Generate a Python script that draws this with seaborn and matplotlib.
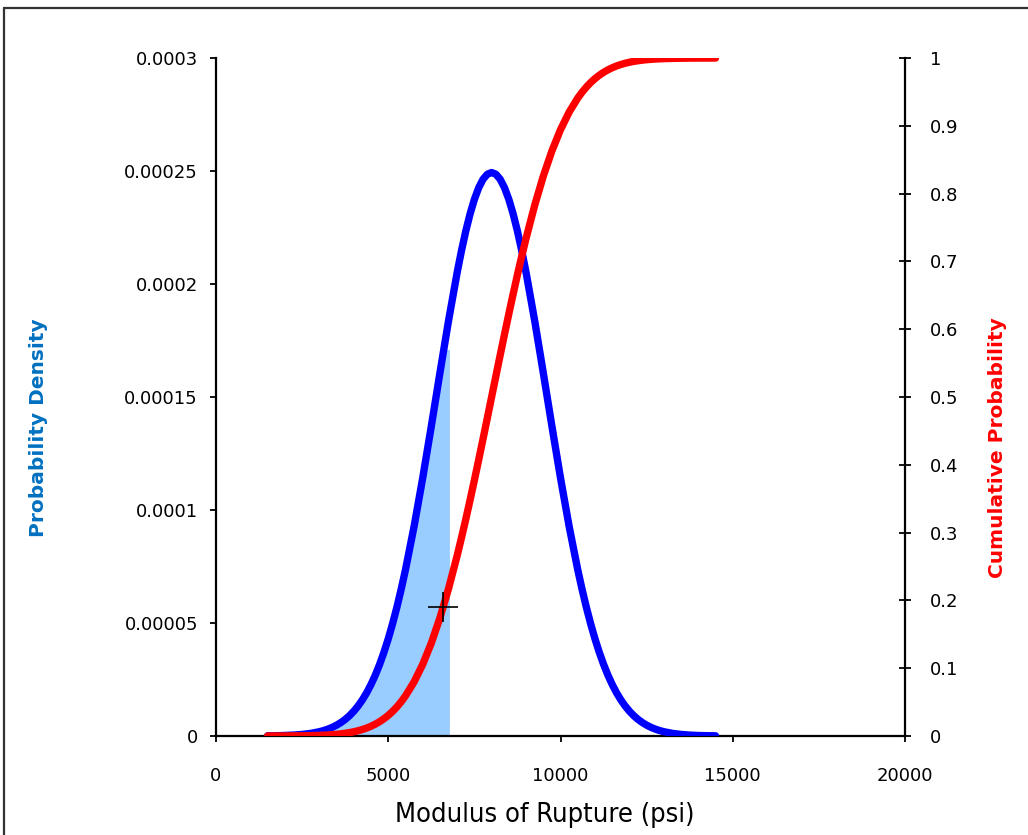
import numpy as np
import pandas as pd
import matplotlib
matplotlib.use('Agg')
import matplotlib.pyplot as plt
from matplotlib.lines import Line2D
import seaborn as sns

mor_psi = list(range(1500, 14501, 250))

# Probability density (blue curve)
pdf_vals = [
    0.0007e-4, 0.0012e-4, 0.0022e-4, 0.0039e-4, 0.0068e-4, 0.0114e-4, 0.0189e-4,
    0.0304e-4, 0.0478e-4, 0.0732e-4, 0.1096e-4, 0.1600e-4, 0.2279e-4, 0.3168e-4,
    0.4299e-4, 0.5693e-4, 0.7356e-4, 0.9276e-4, 1.1416e-4, 1.3709e-4, 1.6067e-4,
    1.8376e-4, 2.0510e-4, 2.2340e-4, 2.3746e-4, 2.4632e-4, 2.4934e-4,
    2.4632e-4, 2.3746e-4, 2.2340e-4, 2.0510e-4, 1.8376e-4, 1.6067e-4, 1.3709e-4,
    1.1416e-4, 0.9276e-4, 0.7356e-4, 0.5693e-4, 0.4299e-4, 0.3168e-4, 0.2279e-4,
    0.1600e-4, 0.1096e-4, 0.0732e-4, 0.0478e-4, 0.0304e-4, 0.0189e-4, 0.0114e-4,
    0.0068e-4, 0.0039e-4, 0.0022e-4, 0.0012e-4, 0.0007e-4,
]

# Cumulative probability (red curve)
cdf_vals = [
    0.00002, 0.00005, 0.00009, 0.00016, 0.00029, 0.00052, 0.00089, 0.00150,
    0.00246, 0.00395, 0.00621, 0.00955, 0.01435, 0.02111, 0.03040, 0.04283,
    0.05908, 0.07982, 0.10565, 0.13703, 0.17425, 0.21733, 0.26599, 0.31963,
    0.37733, 0.43792, 0.50000, 0.56208, 0.62267, 0.68037, 0.73401, 0.78267,
    0.82575, 0.86297, 0.89435, 0.92018, 0.94092, 0.95717, 0.96960, 0.97889,
    0.98565, 0.99045, 0.99379, 0.99605, 0.99754, 0.99851, 0.99911, 0.99948,
    0.99971, 0.99984, 0.99991, 0.99995, 0.99998,
]

# Extra readings where the curves bend most (between the 250 psi samples)
mor_fine = [3125, 3375, 3625, 3875, 4125, 4375, 4625, 4875, 5125, 5375,
            7125, 7375, 7625, 7875, 8125, 8375, 8625, 8875,
            10625, 10875, 11125, 11375, 11625, 11875, 12125, 12375, 12625, 12875]
pdf_fine = [0.0240e-4, 0.0382e-4, 0.0593e-4, 0.0898e-4, 0.1328e-4, 0.1915e-4,
            0.2695e-4, 0.3702e-4, 0.4963e-4, 0.6491e-4,
            2.1471e-4, 2.3102e-4, 2.4259e-4, 2.4858e-4, 2.4858e-4, 2.4259e-4,
            2.3102e-4, 2.1471e-4,
            0.6491e-4, 0.4963e-4, 0.3702e-4, 0.2695e-4, 0.1915e-4, 0.1328e-4,
            0.0898e-4, 0.0593e-4, 0.0382e-4, 0.0240e-4]
cdf_fine = [0.00116, 0.00192, 0.00313, 0.00497, 0.00772, 0.01174, 0.01746,
            0.02540, 0.03618, 0.05044,
            0.29223, 0.34804, 0.40735, 0.46887, 0.53113, 0.59265, 0.65196, 0.70777,
            0.94956, 0.96382, 0.97460, 0.98254, 0.98826, 0.99228, 0.99503,
            0.99687, 0.99808, 0.99884]

# Shaded region: under the density curve up to ~6500 psi, then a flat top to the edge
shade_extra_x = [6600, 6775]
shade_extra_y = [1.71e-4, 1.71e-4]

# Marked point on the cumulative curve
mark_x = [6600]
mark_cdf = [0.19]

x_ticks = [0, 5000, 10000, 15000, 20000]
pdf_ticks = [0, 0.00005, 0.0001, 0.00015, 0.0002, 0.00025, 0.0003]
pdf_tick_labels = ['0', '0.00005', '0.0001', '0.00015', '0.0002', '0.00025', '0.0003']
cdf_ticks = [0, 0.1, 0.2, 0.3, 0.4, 0.5, 0.6, 0.7, 0.8, 0.9, 1.0]
cdf_tick_labels = ['0', '0.1', '0.2', '0.3', '0.4', '0.5', '0.6', '0.7', '0.8', '0.9', '1']

df = pd.concat([
    pd.DataFrame({'mor': mor_psi, 'pdf': pdf_vals, 'cdf': cdf_vals}),
    pd.DataFrame({'mor': mor_fine, 'pdf': pdf_fine, 'cdf': cdf_fine}),
]).sort_values('mor').reset_index(drop=True)

shade = df[df['mor'] <= 6500]
shade_x = list(shade['mor']) + shade_extra_x
shade_y = list(shade['pdf']) + shade_extra_y

sns.set_style("white")
plt.rcParams['font.family'] = ['DejaVu Sans']

fig = plt.figure(figsize=(10.28, 8.35), dpi=100)
ax = fig.add_axes([0.2101, 0.1186, 0.6703, 0.8119])
ax2 = ax.twinx()

# Shaded area and density curve
ax.fill_between(shade_x, shade_y, 0, color='#99CCFF', linewidth=0, zorder=1)
sns.lineplot(data=df, x='mor', y='pdf', ax=ax, color='#0000FF', linewidth=5.3,
             solid_capstyle='round', solid_joinstyle='round', zorder=3)

# Cumulative curve and marker
sns.lineplot(data=df, x='mor', y='cdf', ax=ax2, color='#FF0000', linewidth=5.3,
             solid_capstyle='round', solid_joinstyle='round', zorder=3)
ax2.plot(mark_x, mark_cdf, marker='+', color='black', markersize=21,
         markeredgewidth=1.2, linestyle='none', zorder=4)

ax.set_xlim(0, 20000)
ax.set_ylim(0, 0.0003)
ax2.set_ylim(0, 1)

ax.set_xticks(x_ticks)
ax.set_xticklabels([str(t) for t in x_ticks])
ax.set_yticks(pdf_ticks)
ax.set_yticklabels(pdf_tick_labels)
ax2.set_yticks(cdf_ticks)
ax2.set_yticklabels(cdf_tick_labels)

for a in (ax, ax2):
    for s in a.spines.values():
        s.set_visible(False)
    a.grid(False)
    a.set_facecolor('none')
ax.spines['left'].set_visible(True)
ax.spines['bottom'].set_visible(True)
ax2.spines['right'].set_visible(True)
for s in (ax.spines['left'], ax.spines['bottom'], ax2.spines['right']):
    s.set_color('black')
    s.set_linewidth(1.6)

ax.tick_params(axis='x', direction='out', length=4.5, width=1.3, pad=18,
               labelsize=13, colors='black', bottom=True)
ax.tick_params(axis='y', direction='out', length=4, width=1.3, pad=9,
               labelsize=13, colors='black', left=True)
ax2.tick_params(axis='y', direction='inout', length=8, width=1.3, pad=14,
                labelsize=13, colors='black', right=True)

ax.set_xlabel('Modulus of Rupture (psi)', fontsize=19.5, family='DejaVu Sans',
              fontstretch='condensed', color='black', va='center')
ax.xaxis.set_label_coords(0.4775, -0.1165)
ax.set_ylabel('Probability Density', fontsize=14.5, fontweight='bold',
              color='#0070C0', va='center')
ax.yaxis.set_label_coords(-0.258, 0.454)
ax2.set_ylabel('Cumulative Probability', fontsize=14.5, fontweight='bold',
               color='#FF0000', va='center')
ax2.yaxis.set_label_coords(1.1335, 0.426)

# Chart frame (left and top edges visible in the reference)
fig.add_artist(Line2D([4 / 1028, 4 / 1028], [0, 1 - 8 / 835], transform=fig.transFigure,
                      color='#333333', linewidth=1.6))
fig.add_artist(Line2D([4 / 1028, 1], [1 - 8 / 835, 1 - 8 / 835], transform=fig.transFigure,
                      color='#333333', linewidth=1.6))

fig.savefig('out.png', dpi=100, facecolor='white')
plt.close(fig)
